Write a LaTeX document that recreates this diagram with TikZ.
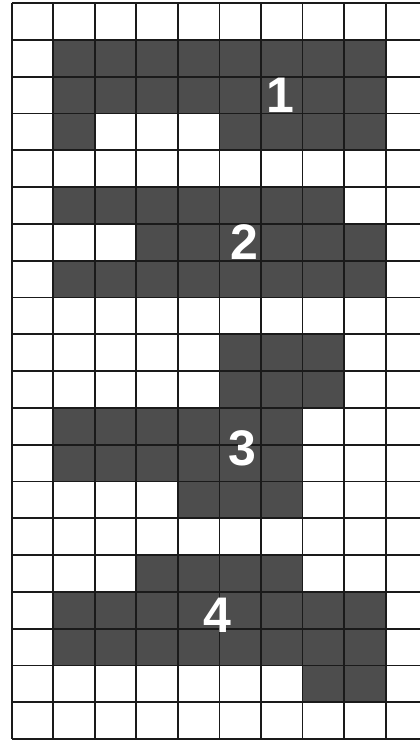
\documentclass[tikz,border=0pt]{standalone}
\usepackage{fontspec}
\setmainfont{Liberation Sans}
\definecolor{cellgray}{HTML}{4D4D4D}
\definecolor{gridline}{HTML}{1A1A1A}
\tikzset{
  cellfill/.style={fill=cellgray},
  gridrule/.style={draw=gridline, line width=1.8pt},
  digit/.style={text=white, inner sep=0pt, font=\fontsize{50}{50}\selectfont\bfseries}
}
\begin{document}
\begin{tikzpicture}[x=1pt,y=-1pt]
  \useasboundingbox (0,0) rectangle (420,740);
  \fill[white] (0,0) rectangle (420,740);
  \def\xo{11.7}\def\dx{41.55}\def\yo{3}\def\dy{36.8}
  % dark cells: row/first col/last col
  \foreach \r/\a/\b in {1/1/8, 2/1/8, 3/1/1, 3/5/8, 5/1/7, 6/3/8, 7/1/8, 9/5/7, 10/5/7, 11/1/6, 12/1/6, 13/4/6, 15/3/6, 16/1/8, 17/1/8, 18/7/8}{
    \fill[cellfill] ({\xo+\dx*\a},{\yo+\dy*\r}) rectangle ({\xo+\dx*(\b+1)},{\yo+\dy*(\r+1)});
  }
  % grid
  \foreach \i in {0,...,9}{
    \draw[gridrule] ({\xo+\dx*\i},{\yo}) -- ({\xo+\dx*\i},{\yo+\dy*20});
  }
  \foreach \j in {0,...,20}{
    \draw[gridrule] ({\xo},{\yo+\dy*\j}) -- (420,{\yo+\dy*\j});
  }
  \node[digit] (one) at (280.5,95) {1};
  \node[digit] (two) at (244.5,242.5) {2};
  \node[digit] (three) at (242,448) {3};
  \node[digit] (four) at (217,615) {4};
\end{tikzpicture}
\end{document}
